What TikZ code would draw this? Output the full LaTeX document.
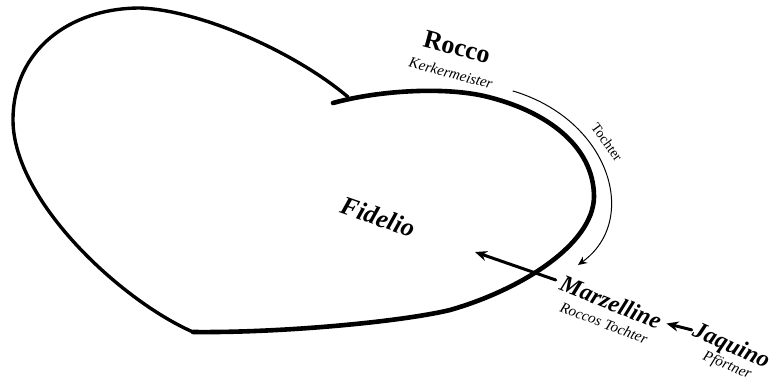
\documentclass[tikz,border=0pt]{standalone}
\usepackage{fontspec}
\setmainfont{Liberation Serif}
\usetikzlibrary{arrows.meta}
\begin{document}
\begin{tikzpicture}[x=1pt,y=-1pt,line join=round,line cap=round,
    person/.style={font=\bfseries\fontsize{26}{26}\selectfont,inner sep=0pt},
    lead/.style={font=\bfseries\itshape\fontsize{24}{24}\selectfont,inner sep=0pt},
    role/.style={font=\itshape\fontsize{15}{15}\selectfont,inner sep=0pt},
    link/.style={line width=3pt,-{Stealth[length=12pt,width=10pt]}},
    thinlink/.style={line width=1pt,-{Stealth[length=9pt,width=8pt,inset=3pt]}}]
  \useasboundingbox (0,0) rectangle (773,383);
  % heart
  \draw[line width=3.4pt] (193,332) .. controls (120,300) and (13,200) .. (13,120)
    .. controls (13,50) and (70,8) .. (140,8)
    .. controls (200,10) and (295,52) .. (348,97);
  \draw[line width=4.6pt] (333,103) .. controls (380,90) and (450,86) .. (492,98)
    .. controls (545,112) and (594,145) .. (594,197)
    .. controls (593,245) and (520,290) .. (450,310)
    .. controls (400,322) and (280,333) .. (193,332);
  % names
  \node[person,rotate=-15] (rocco) at (457,47) {Rocco};
  \node[role,rotate=-15] (rocco-role) at (451,73) {Kerkermeister};
  \node[lead,font=\bfseries\itshape\fontsize{26}{26}\selectfont,rotate=-19] (fidelio) at (378,217) {Fidelio};
  \node[lead,rotate=-22] (marzelline) at (611,302) {Marzelline};
  \node[role,rotate=-21] (marzelline-role) at (604,323) {Roccos Tochter};
  \node[lead,rotate=-24] (jaquino) at (731,347) {Jaquino};
  \node[role,rotate=-22] (jaquino-role) at (727,366) {Pförtner};
  \node[font=\fontsize{14}{14}\selectfont,inner sep=0pt,rotate=-54] (tochter) at (607,142) {Tochter};
  % relations
  \coordinate (tochter-from) at (513,91);
  \coordinate (tochter-to) at (578,265);
  \coordinate (fidelio-in) at (475,252);
  \draw[thinlink] (tochter-from) .. controls (610,120) and (640,220) .. (tochter-to);
  \draw[link,shorten <=6pt] (marzelline.west) -- (fidelio-in);
  \draw[link,shorten <=2pt,shorten >=6pt] (jaquino.west) -- (marzelline.east);
\end{tikzpicture}
\end{document}
